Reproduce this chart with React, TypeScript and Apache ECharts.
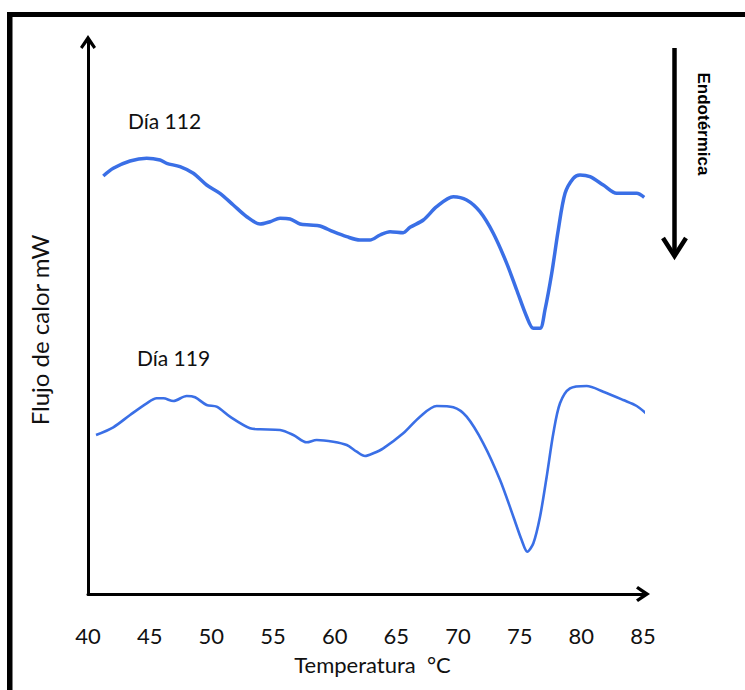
import React, { useEffect, useRef } from "react";
import * as echarts from "echarts";

// ---- data ----
const xMin = 40;
const xMax = 85;
const xStep = 5;
const yMin = 0;
const yMax = 55.2;

const seriesNames = ["Día 112", "Día 119"];
const xAxisTitle = "Temperatura  °C";
const yAxisTitle = "Flujo de calor mW";
const directionLabel = "Endotérmica";

const day112Temp = [
  41.24, 42.05, 43.41, 44.76, 45.84, 46.38, 47.46, 48.54, 49.62, 50.7, 51.78, 52.87, 53.95,
  54.76, 55.57, 56.38, 57.19, 58.0, 58.81, 59.89, 60.98, 62.05, 62.86, 63.68, 64.49, 65.56,
  66.11, 67.19, 68.27, 69.62, 70.7, 71.78, 72.86, 73.95, 74.76, 75.57, 76.11, 76.65, 77.05,
  77.6, 78.13, 78.68, 79.35, 79.89, 80.7, 81.78, 82.87, 83.95, 84.49, 85.1,
];
const day112Flow = [
  41.8, 42.57, 43.3, 43.57, 43.4, 43.07, 42.73, 42.07, 40.9, 40.07, 38.9, 37.73, 37.0,
  37.23, 37.57, 37.5, 37.0, 36.9, 36.8, 36.23, 35.73, 35.4, 35.4, 35.9, 36.23, 36.13,
  36.67, 37.4, 38.73, 39.73, 39.4, 38.23, 36.07, 33.07, 30.4, 27.73, 26.57, 26.57, 28.4,
  32.07, 36.4, 40.07, 41.57, 41.9, 41.73, 40.9, 40.07, 40.07, 40.07, 39.67,
];

const day119Temp = [
  40.65, 42.05, 43.41, 44.76, 45.57, 46.11, 46.92, 48.0, 48.68, 49.62, 50.43, 51.51, 53.14,
  53.95, 55.57, 56.65, 57.73, 58.54, 59.89, 60.98, 61.79, 62.46, 63.13, 63.94, 65.56, 66.92,
  68.27, 69.62, 70.7, 72.05, 73.41, 74.49, 75.16, 75.62, 76.11, 76.65, 77.19, 77.73, 78.27,
  79.08, 80.43, 81.78, 83.4, 84.49, 85.4,
];
const day119Flow = [
  15.9, 16.67, 17.9, 19.07, 19.57, 19.57, 19.3, 19.8, 19.67, 18.9, 18.73, 17.73, 16.57,
  16.47, 16.4, 15.9, 15.17, 15.4, 15.23, 14.9, 14.23, 13.8, 14.07, 14.57, 16.07, 17.73,
  18.8, 18.67, 17.73, 15.07, 11.4, 7.73, 5.4, 4.23, 5.07, 7.73, 11.73, 16.07, 19.07,
  20.57, 20.8, 20.23, 19.4, 18.8, 17.9,
];

const pairs = (xs: number[], ys: number[]) => xs.map((x, i) => [x, ys[i]]);

const FONT = "Lato, 'Noto Sans', sans-serif";
const ARROW = "path://M8 0 L16 12 L13.6 14 L8 6.2 L2.4 14 L0 12 Z";
const LINE_BLUE = "#3a6fe6";

export default function App() {
  const ref = useRef<HTMLDivElement>(null);

  useEffect(() => {
    document.body.style.margin = "0";
    const chart = echarts.init(ref.current!, null, { renderer: "svg" });
    chart.setOption({
      animation: false,
      backgroundColor: "#ffffff",
      grid: { left: 88, right: 102, top: 42, bottom: 96, containLabel: false },
      xAxis: {
        type: "value",
        min: xMin,
        max: xMax,
        interval: xStep,
        name: xAxisTitle,
        nameLocation: "middle",
        nameGap: 59,
        nameTextStyle: { fontFamily: FONT, fontSize: 22, color: "#111", padding: [0, 0, 0, 14] },
        axisLine: {
          onZero: false,
          lineStyle: { color: "#000", width: 3 },
          symbol: ["none", ARROW],
          symbolSize: [16, 14],
        },
        axisTick: { show: false },
        splitLine: { show: false },
        axisLabel: {
          margin: 30,
          fontFamily: FONT,
          fontSize: 22,
          color: "#111",
          showMinLabel: true,
          showMaxLabel: true,
        },
      },
      yAxis: {
        type: "value",
        min: yMin,
        max: yMax,
        name: yAxisTitle,
        nameLocation: "middle",
        nameGap: 37,
        nameTextStyle: { fontFamily: FONT, fontSize: 24, color: "#111", padding: [0, 24, 0, 0] },
        axisLine: {
          show: true,
          onZero: false,
          lineStyle: { color: "#000", width: 3 },
          symbol: ["none", ARROW],
          symbolSize: [16, 14],
        },
        axisTick: { show: false },
        axisLabel: { show: false },
        splitLine: { show: false },
      },
      series: [
        {
          name: seriesNames[0],
          type: "line",
          data: pairs(day112Temp, day112Flow),
          showSymbol: false,
          smooth: 0.3,
          clip: false,
          lineStyle: { color: LINE_BLUE, width: 3.5 },
        },
        {
          name: seriesNames[1],
          type: "line",
          data: pairs(day119Temp, day119Flow),
          showSymbol: false,
          smooth: 0.3,
          clip: false,
          lineStyle: { color: LINE_BLUE, width: 2.6 },
        },
      ],
      graphic: [
        { type: "rect", shape: { x: 7, y: 12, width: 745, height: 5 }, style: { fill: "#000" } },
        { type: "rect", shape: { x: 7, y: 12, width: 5.5, height: 690 }, style: { fill: "#000" } },
        {
          type: "line",
          shape: { x1: 674.5, y1: 48, x2: 674.5, y2: 253 },
          style: { stroke: "#000", lineWidth: 4.5 },
        },
        {
          type: "polyline",
          shape: { points: [[663, 238], [674.5, 256], [686, 238]] },
          style: { stroke: "#000", lineWidth: 4.5, fill: null, lineJoin: "miter" },
        },
        {
          type: "text",
          x: 703,
          y: 124,
          rotation: -Math.PI / 2,
          style: {
            text: directionLabel,
            fontFamily: "'Liberation Sans', Arial, sans-serif",
            fontWeight: "bold",
            fontSize: 17,
            fill: "#000",
            align: "center",
            verticalAlign: "middle",
          },
        },
        {
          type: "text",
          x: 128,
          y: 120,
          style: {
            text: seriesNames[0],
            fontFamily: FONT,
            fontSize: 21,
            fill: "#111",
            align: "left",
            verticalAlign: "middle",
          },
        },
        {
          type: "text",
          x: 137,
          y: 357,
          style: {
            text: seriesNames[1],
            fontFamily: FONT,
            fontSize: 21,
            fill: "#111",
            align: "left",
            verticalAlign: "middle",
          },
        },
      ],
    });
    return () => chart.dispose();
  }, []);

  return <div ref={ref} style={{ width: 745, height: 690 }} />;
}
